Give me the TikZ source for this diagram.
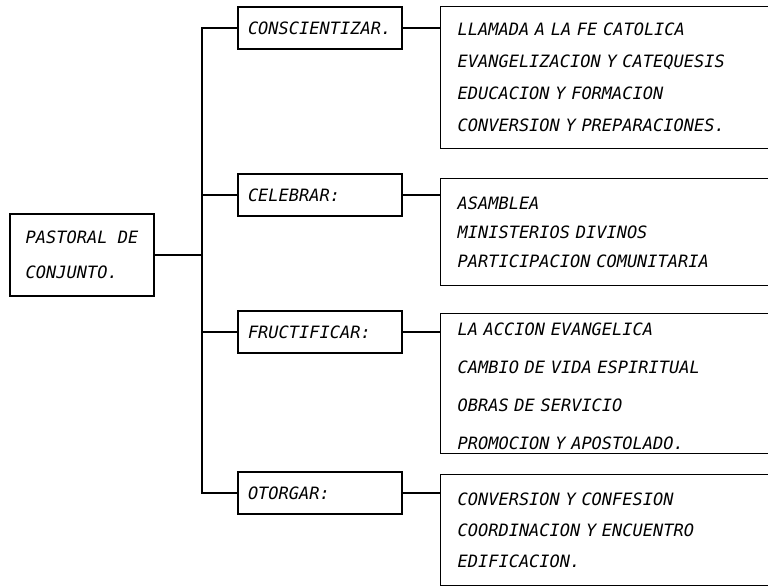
\documentclass[tikz,border=0pt]{standalone}
\usepackage{fontspec}
\newfontfamily\maquina{DejaVu Sans Mono}
\begin{document}
\begin{tikzpicture}[x=1pt, y=-1pt, line width=1.2pt, color=black,
  caja/.style={draw, minimum height=42pt, text width=144pt, inner xsep=10pt, align=left,
    font=\maquina\itshape\fontsize{17}{20}\selectfont},
  lista/.style 2 args={draw, anchor=north west, minimum height=#1, text width=306pt, inner xsep=17pt, align=left,
    font=\maquina\itshape\fontsize{17}{#2}\selectfont}]

\useasboundingbox (0,0) rectangle (768,587);
\clip (0,0) rectangle (768,587);

\node[draw, minimum width=144pt, minimum height=82pt, align=left,
  font=\maquina\itshape\fontsize{17}{35}\selectfont] (raiz) at (82,255) {PASTORAL DE\\CONJUNTO.};
\coordinate (nudo) at (202,255);

\node[caja] (conc) at (320,28)  {CONSCIENTIZAR.};
\node[caja] (cele) at (320,195) {CELEBRAR:};
\node[caja] (fruc) at (320,332) {FRUCTIFICAR:};
\node[caja] (otor) at (320,493) {OTORGAR:};

\node[lista={142pt}{32pt}] (l1) at (440,6)   {LLAMADA A LA FE CATOLICA\\EVANGELIZACION Y CATEQUESIS\\EDUCACION Y FORMACION\\CONVERSION Y PREPARACIONES.};
\node[lista={107pt}{29pt}] (l2) at (440,178) {ASAMBLEA\\MINISTERIOS DIVINOS\\PARTICIPACION COMUNITARIA};
\node[lista={140pt}{38pt}] (l3) at (440,313) {\rule{0pt}{19pt}LA ACCION EVANGELICA\\CAMBIO DE VIDA ESPIRITUAL\\OBRAS DE SERVICIO\\PROMOCION Y APOSTOLADO.};
\node[lista={111pt}{31pt}] (l4) at (440,474) {CONVERSION Y CONFESION\\COORDINACION Y ENCUENTRO\\EDIFICACION.};

% tronco
\draw (raiz.east) -- (nudo);
\draw (conc.west) -| (nudo) |- (otor.west);
\draw (cele.west) -- (cele.west -| nudo);
\draw (fruc.west) -- (fruc.west -| nudo);

% ramas a las listas
\draw (conc.east) -- (conc.east -| l1.west);
\draw (cele.east) -- (cele.east -| l2.west);
\draw (fruc.east) -- (fruc.east -| l3.west);
\draw (otor.east) -- (otor.east -| l4.west);
\end{tikzpicture}
\end{document}
